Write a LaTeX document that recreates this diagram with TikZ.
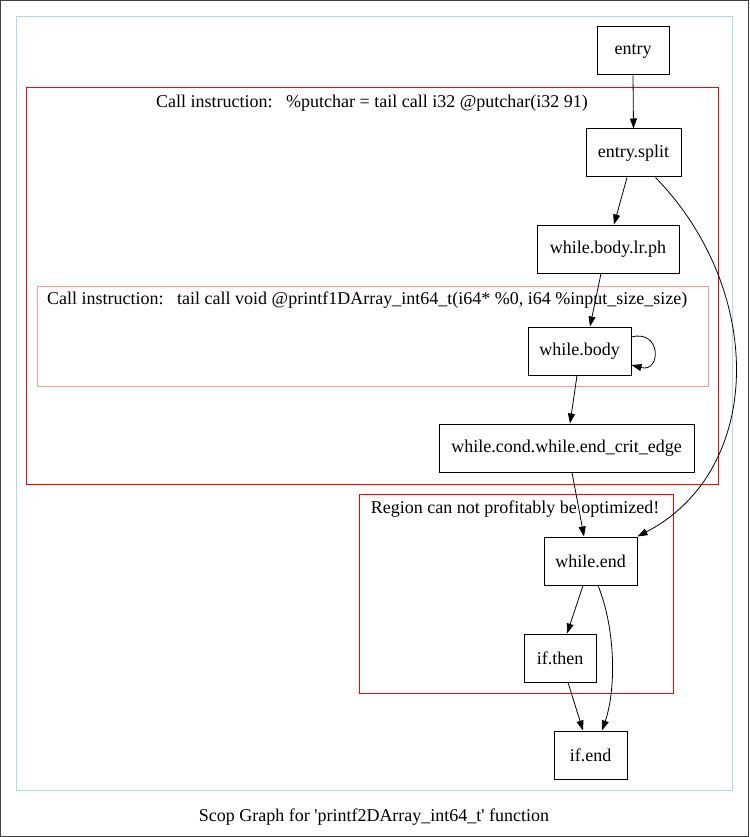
\documentclass[tikz,border=0pt]{standalone}
\usepackage{fontspec}
\setmainfont{Liberation Serif}[Ligatures=TeXOff]
\usetikzlibrary{arrows.meta,positioning}
\definecolor{lightblue}{HTML}{ADD8E6}
\definecolor{lightred}{HTML}{FF9999}
\tikzset{bb/.style={rectangle,draw=black,line width=1pt,minimum height=48pt,inner sep=0pt}}
\tikzset{region/.style={line width=1pt}}
\begin{document}
\begin{tikzpicture}[x=1pt,y=1pt,>={Triangle[length=10pt,width=7pt]},font=\fontsize{18}{21}\selectfont]
% \draw[help lines] (0,0) grid (749,-837);
\useasboundingbox (0,0) rectangle (749,-837);
\draw[darkgray,line width=1pt] (0.5,-0.5) rectangle (748.5,-836.5);
\draw[region,draw=lightblue] (16.5,-16.5) rectangle (732.5,-790.5);
\draw[region,draw=red] (26.5,-87.5) rectangle (718.5,-484.5);
\draw[region,draw=lightred] (37.5,-286.5) rectangle (708.5,-386.5);
\draw[region,draw=red] (359.5,-494.5) -- (673.5,-494.5) -- (673.5,-693.5) -- (359.5,-693.5) -- cycle;
%
\node (l1) at (372,-103) {Call instruction:\ \ \ \%putchar = tail call i32 @putchar(i32 91)};
\node (l2) [anchor=west,inner sep=0pt] at (47,-300) {Call instruction:\ \ \ tail call void @printf1DArray\_int64\_t(i64* \%0, i64 \%input\_size\_size)};
\node (l3) at (515,-509) {Region can not profitably be optimized!};
\node (cap) at (374,-817) {Scop Graph for 'printf2DArray\_int64\_t' function};
%
\node (entry) [bb,minimum width=72pt] at (633,-51) {entry};
\node (split) [bb,minimum width=95pt] at (633.5,-153) {entry.split};
\node (lrph) [bb,minimum width=142pt] at (608,-249) {while.body.lr.ph};
\node (body) [bb,minimum width=103pt] at (579.5,-351) {while.body};
\node (cond) [bb,minimum width=255pt] at (566.5,-448) {while.cond.while.end\_crit\_edge};
\node (wend) [bb,minimum width=93pt] at (590.5,-561) {while.end};
\node (ifthen) [bb,minimum width=72pt] at (560,-658) {if.then};
\node (ifend) [bb,minimum width=73pt] at (590.5,-755) {if.end};
%
\path[->,line width=0.8pt] (entry.south) edge (split.north);
\path[->,line width=0.8pt] ([xshift=-6.5pt]split.south) edge ([xshift=6pt]lrph.north);
\path[->,line width=0.8pt] ([xshift=-7pt]lrph.south) edge ([xshift=10.5pt]body.north);
\path[->,line width=0.8pt] ([xshift=-2.5pt]body.south) edge ([xshift=3.5pt]cond.north);
\path[->,line width=0.8pt] ([xshift=5.5pt]cond.south) edge ([xshift=-6.5pt]wend.north);
\draw[->,line width=0.8pt] ([xshift=22pt]split.south) .. controls (765,-290) and (765,-470) .. (wend.north east);
\draw[->,line width=0.8pt] ([yshift=14pt]body.east) .. controls +(30,8) and +(30,-8) .. ([yshift=-14pt]body.east);
\path[->,line width=0.8pt] ([xshift=-7.5pt]wend.south) edge ([xshift=7pt]ifthen.north);
\draw[->,line width=0.8pt] ([xshift=7.5pt]wend.south) .. controls (616,-630) and (616,-690) .. ([xshift=11.5pt]ifend.north);
\path[->,line width=0.8pt] ([xshift=8pt]ifthen.south) edge ([xshift=-7.5pt]ifend.north);
\end{tikzpicture}
\end{document}
